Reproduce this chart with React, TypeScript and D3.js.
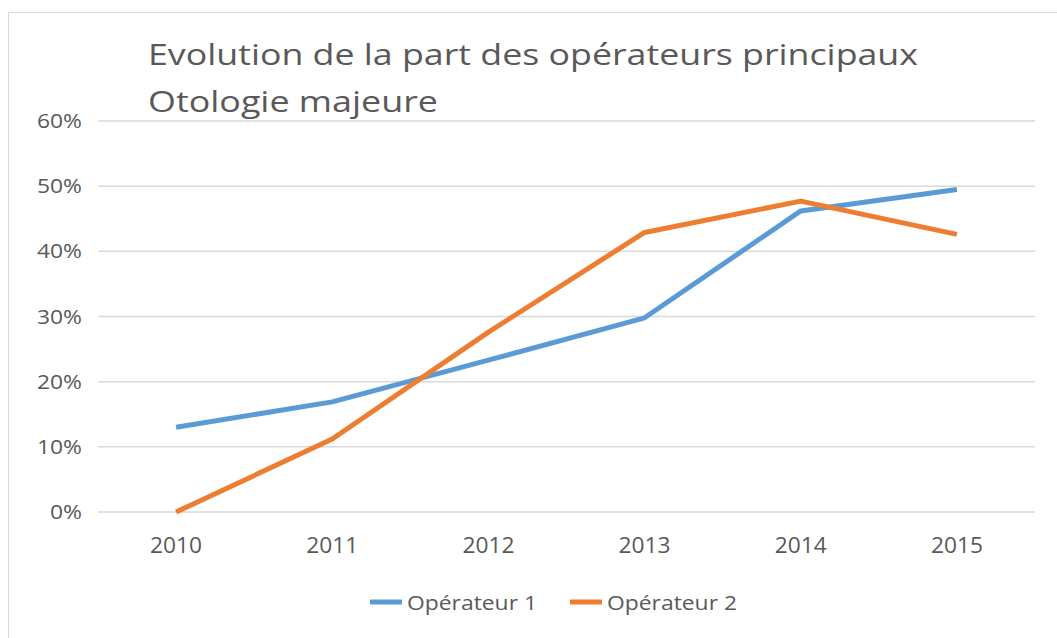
import React from "react";
import * as d3 from "d3";

const years = ["2010", "2011", "2012", "2013", "2014", "2015"];
const operateur1 = [0.13, 0.169, 0.233, 0.298, 0.462, 0.495];
const operateur2 = [0.0, 0.112, 0.276, 0.429, 0.477, 0.426];
const yTicks = [0, 0.1, 0.2, 0.3, 0.4, 0.5, 0.6];
const seriesNames = ["Opérateur 1", "Opérateur 2"];
const colors = ["#5B9BD5", "#ED7D31"];
const titleLines = ["Evolution de la part des opérateurs principaux", "Otologie majeure"];

export default function App() {
  const W = 1057, H = 638;
  const x = d3.scaleBand<string>().domain(years).range([98, 1035]);
  const y = d3.scaleLinear().domain([0, 0.6]).range([512, 121]);
  const cx = (yr: string) => (x(yr) as number) + x.bandwidth() / 2;
  const line = d3.line<number>().x((_, i) => cx(years[i])).y((v) => y(v));
  const series = [operateur1, operateur2];
  const font = "'Open Sans', 'Noto Sans', sans-serif";
  const legendX = [370, 570];
  return (
    <svg width={W} height={H} style={{ position: "absolute", left: 0, top: 0, background: "#fff" }}>
      <rect x={8.5} y={12.5} width={1100} height={700} fill="#fff" stroke="#D9D9D9" strokeWidth={1} />
      {titleLines.map((t, i) => (
        <text key={i} x={148} y={65 + i * 47} fontFamily={font} fontSize={29} fill="#595959"
          textLength={i === 0 ? 770 : 290} lengthAdjust="spacingAndGlyphs">{t}</text>
      ))}
      {yTicks.map((t) => (
        <g key={t}>
          <line x1={98} x2={1035} y1={y(t)} y2={y(t)} stroke="#D9D9D9" strokeWidth={1.5} />
          <text x={82} y={y(t)} dy="0.35em" textAnchor="end" fontFamily={font} fontSize={20} fill="#595959"
            textLength={t === 0 ? 32 : 45} lengthAdjust="spacingAndGlyphs">
            {d3.format(".0%")(t)}
          </text>
        </g>
      ))}
      {years.map((yr) => (
        <text key={yr} x={cx(yr)} y={553} textAnchor="middle" fontFamily={font} fontSize={21.5} fill="#595959"
          textLength={52} lengthAdjust="spacingAndGlyphs">{yr}</text>
      ))}
      {series.map((s, i) => (
        <path key={i} d={line(s) || ""} fill="none" stroke={colors[i]} strokeWidth={5} strokeLinejoin="round" />
      ))}
      {seriesNames.map((n, i) => (
        <g key={n}>
          <line x1={legendX[i]} x2={legendX[i] + 32} y1={602} y2={602} stroke={colors[i]} strokeWidth={5} />
          <text x={legendX[i] + 37} y={603} dy="0.35em" fontFamily={font} fontSize={20} fill="#595959"
            textLength={130} lengthAdjust="spacingAndGlyphs">{n}</text>
        </g>
      ))}
    </svg>
  );
}
